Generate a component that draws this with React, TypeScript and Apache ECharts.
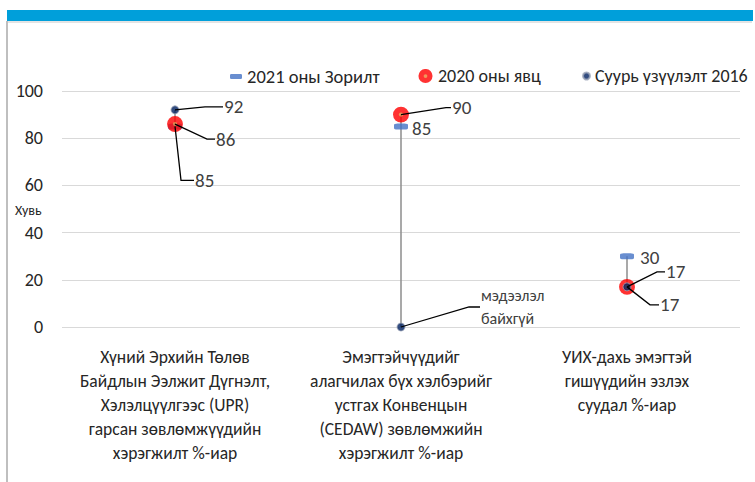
import React, { useEffect, useRef } from "react";
import * as echarts from "echarts";

// ---- data ----
const categories: string[] = [
  "Хүний Эрхийн Төлөв\nБайдлын Ээлжит Дүгнэлт,\nХэлэлцүүлгээс (UPR)\nгарсан зөвлөмжүүдийн\nхэрэгжилт %-иар",
  "Эмэгтэйчүүдийг\nалагчилах бүх хэлбэрийг\nустгах Конвенцын\n(CEDAW) зөвлөмжийн\nхэрэгжилт %-иар",
  "УИХ-дахь эмэгтэй\nгишүүдийн эзлэх\nсуудал %-иар",
];
const seriesNames: string[] = ["2021 оны Зорилт", "2020 оны явц", "Суурь үзүүлэлт 2016"];
const target2021: number[] = [85, 85, 30];
const progress2020: number[] = [86, 90, 17];
const baseline2016: number[] = [92, 0, 17];
const baselineNote: (string | null)[] = [null, "мэдээлэл\nбайхгүй", null];
const yTicks = { min: 0, max: 100, interval: 20 };
const yAxisName = "Хувь";

// ---- label layout (style only) ----
type LL = { ex: number; ey: number; tx: number; line: boolean; fs?: number };
const labelLayout: Record<string, LL[]> = {
  target: [
    { ex: 6, ey: 54, tx: 20, line: true },
    { ex: 0, ey: 2, tx: 11, line: false },
    { ex: 0, ey: 1, tx: 13, line: false },
  ],
  progress: [
    { ex: 32, ey: 15, tx: 41, line: true },
    { ex: 45, ey: -7, tx: 51, line: true },
    { ex: 30, ey: -15, tx: 39, line: true },
  ],
  baseline: [
    { ex: 30, ey: -3, tx: 49, line: true },
    { ex: 68, ey: -20, tx: 80, line: true, fs: 16 },
    { ex: 23, ey: 18, tx: 33, line: true },
  ],
};

const FONT = "'Liberation Sans Narrow', Carlito, 'Liberation Sans', sans-serif";
const TEXT = "#262626";
const LABEL = "#404040";

const progSvg =
  'image://data:image/svg+xml;utf8,' +
  encodeURIComponent(
    '<svg xmlns="http://www.w3.org/2000/svg" width="32" height="32" viewBox="0 0 32 32"><circle cx="16" cy="16" r="15" fill="#FF0000"/><circle cx="16" cy="16" r="4" fill="#ED7D31"/></svg>'
  );

export default function App() {
  const ref = useRef<HTMLDivElement>(null);
  useEffect(() => {
    document.body.style.margin = "0";
    const chart = echarts.init(ref.current!, null, { renderer: "svg" });

    const labelData: any[] = [];
    const addLabels = (key: string, vals: number[]) => {
      vals.forEach((v, i) => {
        const note = key === "baseline" ? baselineNote[i] : null;
        labelData.push({ value: [i, v], key, idx: i, text: note ?? String(v) });
      });
    };
    addLabels("target", target2021);
    addLabels("progress", progress2020);
    addLabels("baseline", baseline2016);

    const hiLo = categories.map((_, i) => {
      const vs = [target2021[i], progress2020[i], baseline2016[i]];
      return [i, Math.max(...vs), Math.min(...vs)];
    });

    chart.setOption({
      animation: false,
      backgroundColor: "#ffffff",
      textStyle: { fontFamily: FONT },
      grid: { left: 62, right: 15, top: 91, bottom: 155, containLabel: false },
      legend: [
        {
          left: 225,
          top: 62,
          itemWidth: 12,
          itemHeight: 5,
          data: [{ name: seriesNames[0], icon: "roundRect" }],
          textStyle: { fontSize: 18.5, color: TEXT, fontFamily: FONT },
        },
        {
          left: 413,
          top: 62,
          itemWidth: 15,
          itemHeight: 15,
          data: [{ name: seriesNames[1], icon: progSvg }],
          textStyle: { fontSize: 18, color: TEXT, fontFamily: FONT },
        },
        {
          left: 577,
          top: 62,
          itemWidth: 7,
          itemHeight: 7,
          data: [{ name: seriesNames[2], icon: "circle" }],
          textStyle: { fontSize: 18, color: TEXT, fontFamily: FONT },
        },
      ],
      xAxis: {
        type: "category",
        data: categories,
        boundaryGap: true,
        axisLine: { show: false },
        axisTick: { show: false },
        axisLabel: {
          interval: 0,
          margin: 18,
          fontSize: 17.5,
          lineHeight: 24,
          color: TEXT,
          fontFamily: FONT,
          align: "center",
        },
      },
      yAxis: {
        type: "value",
        min: yTicks.min,
        max: yTicks.max,
        interval: yTicks.interval,
        axisLine: { show: false },
        axisTick: { show: false },
        axisLabel: { fontSize: 18, color: TEXT, margin: 19, fontFamily: FONT },
        splitLine: { lineStyle: { color: "#d9d9d9", width: 1 } },
      },
      graphic: [
        { type: "rect", shape: { x: 7, y: 10, width: 746, height: 11 }, style: { fill: "#009FDA" } },
        { type: "line", shape: { x1: 7, y1: 22, x2: 752, y2: 22 }, style: { stroke: "#c8c8c8", lineWidth: 1 } },
        { type: "line", shape: { x1: 7, y1: 21, x2: 7, y2: 482 }, style: { stroke: "#bfbfbf", lineWidth: 2 } },
        {
          type: "text",
          x: 15,
          y: 210,
          style: { text: yAxisName, fontSize: 14, fill: TEXT, fontFamily: FONT, textVerticalAlign: "middle" },
        },
      ],
      series: [
        {
          type: "custom",
          name: "hilo",
          z: 1,
          silent: true,
          data: hiLo,
          renderItem: (params: any, api: any) => {
            const p1 = api.coord([api.value(0), api.value(1)]);
            const p2 = api.coord([api.value(0), api.value(2)]);
            return {
              type: "line",
              shape: { x1: p1[0], y1: p1[1], x2: p2[0], y2: p2[1] },
              style: { stroke: "#8c8c8c", lineWidth: 1.5 },
            };
          },
        },
        {
          type: "scatter",
          name: seriesNames[0],
          z: 3,
          symbol: "roundRect",
          symbolSize: [14, 6],
          itemStyle: { color: "#4472C4" },
          data: target2021,
        },
        {
          type: "scatter",
          name: seriesNames[1],
          z: 4,
          symbol: progSvg,
          symbolSize: 17,
          itemStyle: { color: "#FF0000" },
          data: progress2020,
        },
        {
          type: "scatter",
          name: seriesNames[2],
          z: 5,
          symbol: "circle",
          symbolSize: 8,
          itemStyle: { color: "#002060", borderColor: "#9aa3b5", borderWidth: 1 },
          data: baseline2016,
        },
        {
          type: "custom",
          name: "labels",
          z: 10,
          silent: true,
          data: labelData,
          renderItem: (params: any, api: any) => {
            const item = labelData[params.dataIndex];
            const lay = labelLayout[item.key][item.idx];
            const p = api.coord([api.value(0), api.value(1)]);
            const children: any[] = [];
            const ey = p[1] + lay.ey;
            if (lay.line) {
              children.push({
                type: "polyline",
                shape: {
                  points: [
                    [p[0], p[1]],
                    [p[0] + lay.ex, ey],
                    [p[0] + lay.tx - 1, ey],
                  ],
                },
                style: { stroke: "#000000", lineWidth: 1.3, fill: null },
              });
            }
            const fs = lay.fs ?? 19;
            children.push({
              type: "text",
              x: p[0] + lay.tx,
              y: ey,
              style: {
                text: item.text,
                fontSize: fs,
                lineHeight: fs + 7,
                fill: LABEL,
                fontFamily: FONT,
                textAlign: "left",
                textVerticalAlign: "middle",
              },
            });
            return { type: "group", children };
          },
        },
      ],
    });
    return () => chart.dispose();
  }, []);
  return <div ref={ref} style={{ width: 755, height: 482, background: "#fff" }} />;
}
